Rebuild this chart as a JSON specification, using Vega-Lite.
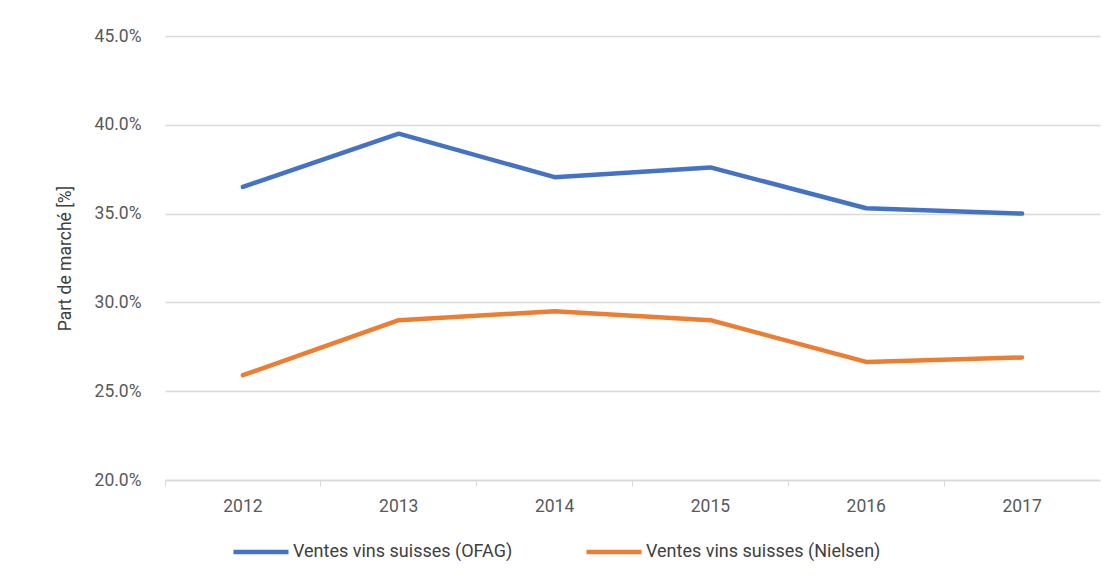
{
  "$schema": "https://vega.github.io/schema/vega-lite/v6.json",
  "autosize": "none",
  "width": 935,
  "height": 444,
  "padding": {"left": 165, "top": 36, "right": 11, "bottom": 102},
  "background": "white",
  "config": {
    "font": "Roboto",
    "view": {"stroke": null},
    "axis": {"labelFont": "Roboto", "titleFont": "Roboto", "labelColor": "#595959", "titleColor": "#404040", "labelFontSize": 17.5, "titleFontSize": 17.5, "titleFontWeight": "normal"},
    "legend": {"labelFont": "Roboto", "labelFontSize": 18, "labelColor": "#404040"}
  },
  "data": {
    "values": [
      {"annee": "2012", "serie": "Ventes vins suisses (OFAG)", "part": 0.365},
      {"annee": "2013", "serie": "Ventes vins suisses (OFAG)", "part": 0.395},
      {"annee": "2014", "serie": "Ventes vins suisses (OFAG)", "part": 0.3705},
      {"annee": "2015", "serie": "Ventes vins suisses (OFAG)", "part": 0.376},
      {"annee": "2016", "serie": "Ventes vins suisses (OFAG)", "part": 0.353},
      {"annee": "2017", "serie": "Ventes vins suisses (OFAG)", "part": 0.35},
      {"annee": "2012", "serie": "Ventes vins suisses (Nielsen)", "part": 0.259},
      {"annee": "2013", "serie": "Ventes vins suisses (Nielsen)", "part": 0.29},
      {"annee": "2014", "serie": "Ventes vins suisses (Nielsen)", "part": 0.295},
      {"annee": "2015", "serie": "Ventes vins suisses (Nielsen)", "part": 0.29},
      {"annee": "2016", "serie": "Ventes vins suisses (Nielsen)", "part": 0.2665},
      {"annee": "2017", "serie": "Ventes vins suisses (Nielsen)", "part": 0.269}
    ]
  },
  "mark": {"type": "line", "strokeWidth": 4.5, "strokeCap": "round", "strokeJoin": "round"},
  "encoding": {
    "x": {
      "field": "annee", "type": "ordinal",
      "scale": {"type": "band", "paddingInner": 0, "paddingOuter": 0},
      "axis": {"title": null, "labelAngle": 0, "bandPosition": 0, "domainColor": "#d9d9d9", "tickColor": "#d9d9d9", "tickSize": 6, "labelPadding": 11, "grid": false, "domainWidth": 1.5}
    },
    "y": {
      "field": "part", "type": "quantitative",
      "scale": {"domain": [0.2, 0.45], "nice": false, "zero": false},
      "axis": {"title": "Part de marché [%]", "format": ".1%", "values": [0.2, 0.25, 0.3, 0.35, 0.4, 0.45], "domain": false, "ticks": false, "labelPadding": 24, "gridColor": "#d9d9d9", "gridWidth": 1.5, "titlePadding": 20}
    },
    "color": {
      "field": "serie", "type": "nominal",
      "scale": {"domain": ["Ventes vins suisses (OFAG)", "Ventes vins suisses (Nielsen)"], "range": ["#4472C4", "#ED7D31"]},
      "legend": {"title": null, "orient": "none", "legendX": 66, "legendY": 486, "direction": "horizontal", "symbolType": "stroke", "symbolSize": 3025, "symbolStrokeWidth": 4.5, "labelOffset": 2, "columnPadding": 64, "labelLimit": 400}
    }
  }
}
